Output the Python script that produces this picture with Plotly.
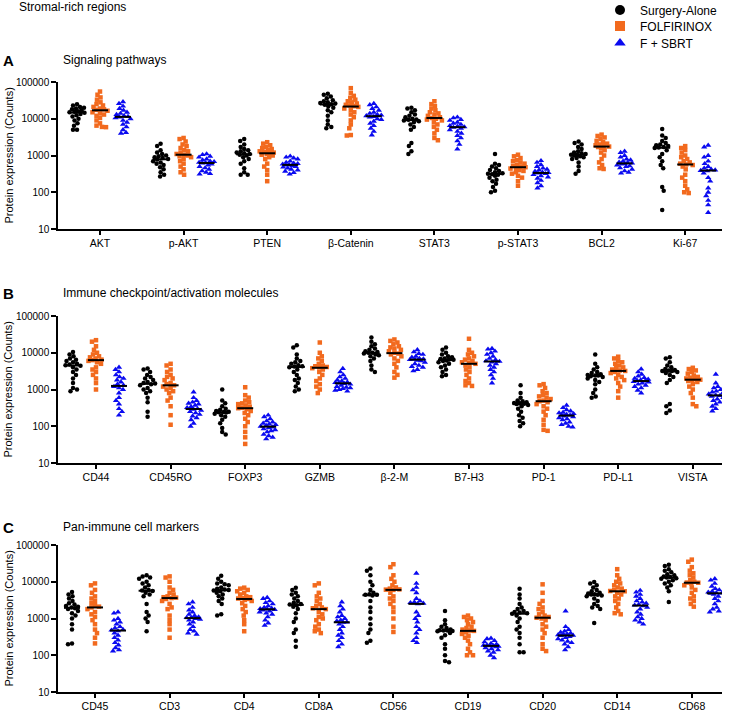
import math
import plotly.graph_objects as go

# ---------------- data ----------------
cats_A = ["AKT", "p-AKT", "PTEN", "β-Catenin", "STAT3", "p-STAT3", "BCL2", "Ki-67"]
cats_B = ["CD44", "CD45RO", "FOXP3", "GZMB", "β-2-M", "B7-H3", "PD-1", "PD-L1", "VISTA"]
cats_C = ["CD45", "CD3", "CD4", "CD8A", "CD56", "CD19", "CD20", "CD14", "CD68"]
group_names = ["Surgery-Alone", "FOLFIRINOX", "F + SBRT"]

A_surgery = [
    [25000, 23000, 21000, 20000, 19000, 18000, 17000, 16000, 15500, 15000, 14500, 13500, 12500, 11500, 10000, 9000, 7500, 6500, 5000, 5000],
    [2100, 1800, 1400, 1200, 1100, 1000, 950, 900, 850, 800, 780, 700, 650, 600, 550, 480, 420, 350, 300, 270],
    [2800, 2500, 2000, 1700, 1500, 1400, 1300, 1200, 1150, 1100, 1050, 1000, 900, 800, 700, 600, 450, 350, 300, 300],
    [48000, 45000, 40000, 36000, 32000, 30000, 28000, 27000, 26000, 25000, 24000, 22000, 20000, 17000, 15000, 12000, 9000, 7000, 6000, 5500],
    [20000, 19000, 17000, 15000, 13000, 12000, 11000, 10000, 9500, 9400, 9000, 8500, 8000, 7000, 6000, 5000, 2200, 1800, 1300, 1100],
    [1100, 600, 550, 500, 450, 400, 380, 350, 330, 320, 310, 300, 280, 250, 220, 200, 170, 140, 110, 100],
    [2400, 2200, 2000, 1700, 1500, 1300, 1200, 1150, 1100, 1050, 1050, 1000, 950, 900, 850, 800, 650, 500, 380, 320],
    [5300, 3500, 3000, 2500, 2200, 2000, 1900, 1800, 1700, 1650, 1600, 1400, 1100, 900, 700, 550, 450, 140, 110, 33],
]
A_folfirinox = [
    [55000, 45000, 38000, 33000, 28000, 25000, 23000, 21000, 19000, 18000, 17500, 16500, 15000, 14000, 13000, 12000, 10500, 9000, 7500, 6500, 6000, 5900],
    [3000, 2800, 2400, 2000, 1800, 1600, 1400, 1300, 1200, 1100, 1050, 1000, 950, 900, 800, 700, 600, 500, 420, 350, 300],
    [2300, 2100, 1900, 1700, 1600, 1500, 1400, 1300, 1250, 1200, 1150, 1100, 1050, 1000, 900, 800, 600, 500, 400, 300, 200],
    [68000, 50000, 42000, 37000, 33000, 30000, 28000, 26000, 24000, 23000, 22000, 21000, 19000, 17000, 15000, 13000, 11000, 9000, 7000, 5500, 3600, 3500],
    [30000, 25000, 22000, 19000, 17000, 15000, 14000, 13000, 12000, 11000, 10500, 10000, 9500, 9000, 8000, 7000, 6000, 5000, 4000, 3000, 2600],
    [1050, 950, 850, 750, 700, 650, 600, 560, 520, 500, 480, 460, 440, 400, 380, 350, 320, 280, 250, 200, 150],
    [3700, 3400, 3100, 2800, 2500, 2300, 2100, 2000, 1900, 1800, 1750, 1700, 1600, 1400, 1200, 1000, 800, 650, 550, 450, 430],
    [1800, 1600, 1400, 1200, 1000, 900, 800, 700, 650, 600, 570, 550, 500, 420, 300, 250, 200, 150, 120, 100, 95],
]
A_sbrt = [
    [29000, 26000, 22000, 19000, 17000, 15000, 14000, 13000, 12000, 11500, 11000, 10500, 10000, 9000, 8000, 7000, 6000, 5000, 4200, 4000],
    [1100, 1050, 950, 900, 800, 750, 700, 680, 650, 630, 620, 580, 550, 500, 460, 420, 380, 350, 320, 310],
    [960, 900, 850, 800, 700, 650, 620, 600, 580, 560, 550, 520, 500, 480, 450, 420, 400, 370, 340, 310],
    [26000, 24000, 21000, 19000, 17000, 15000, 14000, 13000, 12500, 12000, 11500, 11000, 10000, 9500, 8500, 7500, 6500, 5500, 4500, 3600],
    [11000, 10500, 9500, 9000, 8000, 7500, 7000, 6500, 6200, 6000, 5800, 5500, 5000, 4500, 4000, 3500, 3000, 2500, 2000, 1500],
    [720, 650, 560, 500, 450, 420, 400, 370, 350, 340, 330, 320, 300, 280, 260, 240, 210, 180, 150, 130],
    [1300, 1200, 1000, 900, 800, 750, 700, 660, 640, 620, 600, 580, 550, 520, 500, 460, 420, 380, 350, 330],
    [1900, 1700, 1000, 900, 700, 600, 500, 450, 420, 400, 390, 380, 330, 250, 200, 130, 100, 80, 60, 45, 28],
]

B_surgery = [
    [10500, 9000, 8000, 7000, 6500, 6000, 5500, 5000, 4800, 4600, 4400, 4000, 3500, 3000, 2500, 2000, 1500, 1100, 1000, 900],
    [3700, 3500, 3000, 2500, 2200, 2000, 1800, 1600, 1500, 1450, 1400, 1300, 1100, 1000, 900, 800, 600, 450, 250, 180],
    [1000, 500, 420, 350, 300, 280, 260, 250, 245, 240, 235, 220, 200, 180, 150, 120, 90, 70, 60],
    [16000, 14000, 9000, 7000, 6000, 5500, 5000, 4600, 4300, 4200, 4000, 3500, 3000, 2500, 2000, 1800, 1500, 1200, 1000, 900],
    [26000, 20000, 17000, 15000, 13000, 12000, 11000, 10500, 10000, 10000, 9500, 9000, 8500, 8000, 7000, 6000, 4500, 3500, 3000],
    [14000, 12000, 10000, 9000, 8000, 7500, 7000, 6800, 6600, 6500, 6200, 6000, 5500, 5000, 4500, 4000, 3500, 3000, 2500, 2300],
    [1300, 800, 600, 500, 480, 450, 430, 420, 410, 400, 380, 350, 300, 250, 200, 170, 140, 120, 100],
    [9000, 5000, 4000, 3500, 3000, 2800, 2600, 2500, 2400, 2400, 2300, 2200, 2000, 1800, 1600, 1400, 1000, 800, 650, 600],
    [7600, 7000, 5500, 4500, 4000, 3600, 3400, 3300, 3200, 3200, 3000, 2800, 2500, 2200, 1800, 1500, 400, 350, 270, 230],
]
B_folfirinox = [
    [22000, 20000, 15000, 12000, 10000, 9000, 8000, 7500, 7000, 6500, 6300, 6000, 5500, 5000, 4000, 3500, 3000, 2500, 2000, 1500, 1000],
    [5000, 4500, 3500, 3000, 2500, 2200, 2000, 1800, 1500, 1400, 1300, 1200, 1100, 1000, 900, 800, 600, 500, 350, 200, 110],
    [1150, 700, 600, 500, 450, 420, 400, 370, 340, 320, 310, 290, 260, 230, 200, 160, 130, 100, 70, 50, 33],
    [19000, 10000, 8000, 7000, 6000, 5000, 4500, 4300, 4100, 4000, 3800, 3500, 3000, 2500, 2000, 1700, 1400, 1200, 1000, 800],
    [23000, 21000, 19000, 17000, 15000, 14000, 13000, 12000, 11000, 10000, 9500, 9000, 8000, 7000, 6000, 5000, 4000, 3000, 2500, 2100],
    [24000, 12000, 10000, 9000, 8000, 7000, 6500, 6000, 5500, 5200, 5000, 4500, 4000, 3500, 3000, 2500, 2000, 1700, 1500, 1300, 1250],
    [1400, 1300, 1100, 900, 800, 700, 650, 600, 550, 500, 480, 450, 400, 350, 300, 250, 200, 150, 110, 80, 75],
    [7800, 7000, 6000, 5500, 5000, 4500, 4000, 3800, 3500, 3300, 3200, 3000, 2800, 2500, 2200, 2000, 1800, 1500, 1200, 900, 600],
    [3900, 3600, 3300, 3000, 2700, 2400, 2200, 2100, 2000, 1900, 1850, 1800, 1700, 1600, 1400, 1200, 1000, 800, 600, 400, 350],
]
B_sbrt = [
    [4000, 3500, 3000, 2500, 2200, 2000, 1800, 1600, 1400, 1300, 1200, 1100, 1000, 800, 600, 500, 400, 300, 250, 200],
    [850, 600, 500, 450, 420, 400, 370, 340, 320, 300, 290, 270, 250, 230, 210, 190, 170, 150, 120, 100],
    [200, 180, 160, 140, 130, 120, 115, 110, 105, 100, 95, 90, 85, 80, 75, 70, 60, 55, 50, 45],
    [3700, 3000, 2500, 2200, 2000, 1800, 1700, 1600, 1550, 1500, 1450, 1400, 1300, 1200, 1150, 1100, 1050, 1000, 950, 900],
    [12000, 10500, 9500, 9000, 8000, 7500, 7000, 6800, 6600, 6500, 6200, 6000, 5500, 5000, 4500, 4200, 4000, 3500, 3200],
    [13000, 12500, 11000, 10000, 9000, 8000, 7000, 6500, 6000, 5800, 5600, 5000, 4500, 4000, 3500, 3000, 2500, 2000, 1500],
    [370, 320, 280, 260, 240, 230, 220, 210, 200, 200, 190, 180, 170, 160, 150, 130, 120, 110, 100, 95],
    [3600, 3000, 2600, 2300, 2100, 2000, 1900, 1800, 1750, 1700, 1650, 1600, 1500, 1400, 1300, 1200, 1100, 950, 800],
    [2600, 1500, 1200, 1100, 1000, 900, 850, 800, 750, 700, 680, 650, 600, 550, 500, 450, 400, 350, 300, 260],
]

C_surgery = [
    [5300, 4500, 4000, 3500, 3000, 2600, 2400, 2200, 2100, 2000, 1900, 1800, 1600, 1400, 1200, 1000, 700, 500, 210, 200],
    [15000, 14000, 13000, 12000, 10000, 9000, 8000, 7000, 6000, 5800, 5600, 5000, 4500, 4000, 2500, 1500, 1200, 1000, 800, 450],
    [14500, 12000, 10000, 9000, 8500, 8000, 7000, 6500, 6200, 6000, 5800, 5500, 5000, 4500, 4000, 3500, 3000, 2500, 1300, 1200],
    [6900, 6000, 5000, 4500, 4000, 3500, 3000, 2700, 2500, 2400, 2300, 2100, 1800, 1400, 1000, 800, 500, 400, 250, 170],
    [23000, 20000, 15000, 10000, 8000, 6000, 5000, 4600, 4400, 4400, 4200, 3000, 2000, 1500, 1000, 700, 500, 400, 250, 220],
    [1600, 900, 700, 600, 550, 500, 480, 470, 470, 460, 450, 400, 350, 300, 200, 150, 100, 70, 65],
    [6500, 4500, 3500, 2500, 2000, 1800, 1600, 1500, 1450, 1400, 1350, 1200, 1000, 800, 600, 500, 400, 300, 200, 120, 120],
    [9800, 9000, 8000, 7000, 6000, 5500, 5000, 4800, 4600, 4500, 4400, 4200, 4000, 3500, 3000, 2500, 2200, 2000, 1800, 750],
    [29000, 27000, 22000, 20000, 18000, 16000, 15000, 14000, 13500, 13000, 12500, 12000, 11000, 10000, 9000, 8000, 7000, 5500, 2800],
]
C_folfirinox = [
    [9000, 8000, 6000, 5000, 4000, 3500, 3000, 2600, 2300, 2100, 2000, 1800, 1500, 1300, 1100, 900, 700, 500, 400, 300, 210],
    [14000, 13000, 10000, 7000, 6000, 5000, 4500, 4000, 3800, 3700, 3600, 3400, 3000, 2500, 2000, 1800, 1200, 900, 700, 500, 300],
    [6900, 6500, 6000, 5500, 5000, 4500, 4000, 3800, 3600, 3500, 3400, 3200, 3000, 2600, 2200, 1800, 1500, 1200, 900, 700, 450],
    [9000, 8000, 5000, 4000, 3500, 3000, 2500, 2200, 2000, 1900, 1800, 1500, 1300, 1100, 1000, 900, 700, 600, 500, 450, 400],
    [30000, 25000, 15000, 12000, 10000, 8000, 7000, 6500, 6200, 6100, 6000, 5000, 4000, 3500, 3000, 2500, 2000, 1500, 1000, 600, 430],
    [1200, 1100, 1000, 900, 800, 700, 600, 550, 500, 470, 460, 420, 380, 340, 300, 250, 200, 150, 120, 100, 100],
    [8500, 5000, 3000, 2500, 2000, 1800, 1500, 1300, 1200, 1100, 1050, 1000, 900, 700, 600, 500, 400, 300, 200, 150, 130],
    [22000, 15000, 12000, 10000, 9000, 8000, 7000, 6500, 6000, 5600, 5500, 5000, 4500, 4000, 3500, 3000, 2500, 2000, 1600, 1400, 1300],
    [40000, 35000, 25000, 20000, 17000, 15000, 13000, 11000, 10000, 9500, 9400, 9000, 8000, 7000, 6000, 5000, 4000, 3500, 3000, 2500, 2100],
]
C_sbrt = [
    [1500, 1400, 1000, 900, 800, 700, 600, 550, 500, 480, 460, 400, 350, 300, 260, 220, 190, 160, 140, 130],
    [2800, 2500, 2000, 1700, 1500, 1300, 1200, 1100, 1050, 1050, 1000, 950, 900, 800, 700, 600, 500, 450, 400, 370],
    [3700, 3500, 3000, 2700, 2500, 2200, 2000, 1900, 1850, 1800, 1750, 1700, 1600, 1500, 1400, 1300, 1100, 900, 750, 650],
    [2800, 2200, 1800, 1500, 1200, 1100, 1000, 900, 850, 800, 780, 700, 600, 500, 400, 350, 300, 250, 200, 170],
    [17000, 9000, 7000, 6000, 5000, 3500, 3000, 2800, 2700, 2600, 2500, 1500, 1200, 1000, 800, 600, 500, 400, 300, 250, 220],
    [290, 280, 250, 230, 210, 200, 190, 185, 180, 180, 175, 170, 160, 150, 140, 130, 120, 100, 85],
    [1600, 600, 500, 450, 420, 400, 380, 370, 360, 350, 340, 320, 300, 280, 260, 240, 220, 200, 170, 140],
    [5800, 5200, 4500, 4000, 3500, 3000, 2800, 2600, 2400, 2300, 2200, 2000, 1800, 1500, 1300, 1100, 1000, 900, 800, 700],
    [12000, 11000, 9000, 7500, 6500, 6000, 5500, 5200, 5000, 4900, 4800, 4500, 4000, 3500, 3000, 2500, 2000, 1800, 1600, 1500],
]

# significance stars: (category index, group index)
sig_A = [(2, 2), (3, 2), (6, 1), (7, 1), (7, 2)]
sig_B = [(0, 2), (1, 2), (2, 2), (3, 2), (4, 2), (6, 2), (8, 1), (8, 2)]
sig_C = [(0, 2), (1, 2), (2, 1), (2, 2), (3, 2), (4, 1), (5, 2), (6, 2), (8, 2)]
star_level = 100000

# ---------------- styling / layout helpers ----------------
W, H = 731, 714
ML, MR = 58, 9
PW = W - ML - MR
colors = ["#000000", "#F26A1E", "#0A0AF0"]
symbols = ["circle", "square", "triangle-up"]
msizes = [4.5, 4.5, 5.5]
FONT = "Liberation Sans, Arial, sans-serif"
DEC_PX = 36.75  # pixels per decade on y


def py2paper(py):
    return 1 - py / H


def px2paper(px):
    return (px - ML) / PW


def swarm(vals, unit_px, D=4.0, step=0.5, cap=7.5):
    """Deterministic beeswarm offsets (in category units) computed from the values."""
    ys = [math.log10(v) * DEC_PX for v in vals]
    order = sorted(range(len(vals)), key=lambda i: -vals[i])
    placed = []
    xs = [0.0] * len(vals)
    nsteps = int(cap / step)
    for n, i in enumerate(order):
        cands = [0.0]
        for k in range(1, nsteps + 1):
            pair = [k * step, -k * step]
            cands += pair if n % 2 == 0 else pair[::-1]
        best, best_d = None, -1.0
        for c in cands:
            dmin = min([math.hypot(c - a, ys[i] - b) for a, b in placed] or [99.0])
            if dmin >= D:
                best = c
                break
            if dmin > best_d + 1e-9:
                best_d, best = dmin, c
        xs[i] = best
        placed.append((best, ys[i]))
    return [x / unit_px for x in xs]


def median(v):
    s = sorted(v)
    n = len(s)
    return s[n // 2] if n % 2 else 0.5 * (s[n // 2 - 1] + s[n // 2])


panels = [
    dict(cats=cats_A, groups=[A_surgery, A_folfirinox, A_sbrt], sig=sig_A,
         unit=83.6, first=100, top=82, bottom=229, title="Signaling pathways", letter="A", ty=60),
    dict(cats=cats_B, groups=[B_surgery, B_folfirinox, B_sbrt], sig=sig_B,
         unit=74.6, first=96, top=316, bottom=463, title="Immune checkpoint/activation molecules", letter="B", ty=293),
    dict(cats=cats_C, groups=[C_surgery, C_folfirinox, C_sbrt], sig=sig_C,
         unit=74.6, first=95, top=545, bottom=692, title="Pan-immune cell markers", letter="C", ty=527),
]

fig = go.Figure()
annotations = []
GOFF_PX = 23   # group offset in px
HALF_MED_PX = 8

for p_i, P in enumerate(panels):
    sfx = "" if p_i == 0 else str(p_i + 1)
    xa, ya = "x" + sfx, "y" + sfx
    goff = GOFF_PX / P["unit"]
    hw = HALF_MED_PX / P["unit"]
    mx, my = [], []
    for g in range(3):
        xs, ys = [], []
        for c, vals in enumerate(P["groups"][g]):
            center = c + (g - 1) * goff
            offs = swarm(vals, P["unit"])
            xs += [center + o for o in offs]
            ys += vals
            m = median(vals)
            mx += [center - hw, center + hw, None]
            my += [m, m, None]
        fig.add_trace(go.Scatter(
            x=xs, y=ys, mode="markers", xaxis=xa, yaxis=ya, showlegend=False,
            marker=dict(symbol=symbols[g], size=msizes[g], color=colors[g], line=dict(width=0)),
            hoverinfo="y", name=group_names[g]))
    fig.add_trace(go.Scatter(x=mx, y=my, mode="lines", xaxis=xa, yaxis=ya, showlegend=False,
                             line=dict(color="black", width=2), hoverinfo="skip"))
    fig.add_trace(go.Scatter(
        x=[c + (g - 1) * goff for c, g in P["sig"]], y=[star_level] * len(P["sig"]),
        mode="text", text=["*"] * len(P["sig"]), textposition="middle center",
        textfont=dict(family=FONT, size=13, color="black"),
        xaxis=xa, yaxis=ya, showlegend=False, hoverinfo="skip"))

    left = (ML - P["first"]) / P["unit"]
    right = (ML + PW - P["first"]) / P["unit"]
    ax_common = dict(showline=True, linecolor="black", linewidth=1.5, ticks="outside",
                     ticklen=4, tickwidth=1.5, tickcolor="black", showgrid=False, zeroline=False,
                     tickfont=dict(family=FONT, size=10.5, color="black"))
    fig.update_layout(**{
        "xaxis" + sfx: dict(ax_common, domain=[0, 1], anchor=ya, range=[left, right],
                            tickvals=list(range(len(P["cats"]))), ticktext=P["cats"]),
        "yaxis" + sfx: dict(ax_common, domain=[py2paper(P["bottom"]), py2paper(P["top"])],
                            anchor=xa, type="log", range=[1, 5], ticklen=5,
                            tickvals=[10, 100, 1000, 10000, 100000],
                            ticktext=["10", "100", "1000", "10000", "100000"],
                            tickfont=dict(family=FONT, size=10, color="black")),
    })
    annotations.append(dict(text="<b>" + P["letter"] + "</b>", x=px2paper(1), y=py2paper(P["ty"]),
                            xref="paper", yref="paper", xanchor="left", yanchor="middle",
                            showarrow=False, font=dict(family=FONT, size=15, color="black")))
    annotations.append(dict(text=P["title"], x=px2paper(61), y=py2paper(P["ty"]),
                            xref="paper", yref="paper", xanchor="left", yanchor="middle",
                            showarrow=False, font=dict(family=FONT, size=12, color="black")))
    annotations.append(dict(text="Protein expression (Counts)", x=px2paper(8),
                            y=py2paper((P["top"] + P["bottom"]) / 2), textangle=-90,
                            xref="paper", yref="paper", xanchor="center", yanchor="middle",
                            showarrow=False, font=dict(family=FONT, size=11, color="black")))

annotations.append(dict(text="Stromal-rich regions", x=px2paper(17), y=py2paper(7),
                        xref="paper", yref="paper", xanchor="left", yanchor="middle",
                        showarrow=False, font=dict(family=FONT, size=12, color="black")))

# legend entries: one legend per row so the row spacing can follow the reference
legend_rows = [10, 26, 43]
legend_layout = {}
for g in range(3):
    lname = "legend" if g == 0 else "legend%d" % (g + 1)
    fig.add_trace(go.Scatter(x=[None], y=[None], mode="markers", name=group_names[g], legend=lname,
                             marker=dict(symbol=symbols[g], size=10, color=colors[g])))
    legend_layout[lname] = dict(xref="container", yref="container", x=600 / W,
                                y=1 - legend_rows[g] / H, xanchor="left", yanchor="middle",
                                font=dict(family=FONT, size=12, color="black"),
                                bgcolor="rgba(0,0,0,0)", itemsizing="trace")

fig.update_layout(
    width=W, height=H, margin=dict(l=ML, r=MR, t=0, b=0, autoexpand=False),
    paper_bgcolor="white", plot_bgcolor="white",
    annotations=annotations,
    showlegend=True,
    **legend_layout,
)

# remove the browser's default 8px body margin so the figure sits at the page origin
fig.write_html("out.html", config={"displayModeBar": False},
               post_script="document.body.style.margin='0';document.body.style.overflow='hidden';")
